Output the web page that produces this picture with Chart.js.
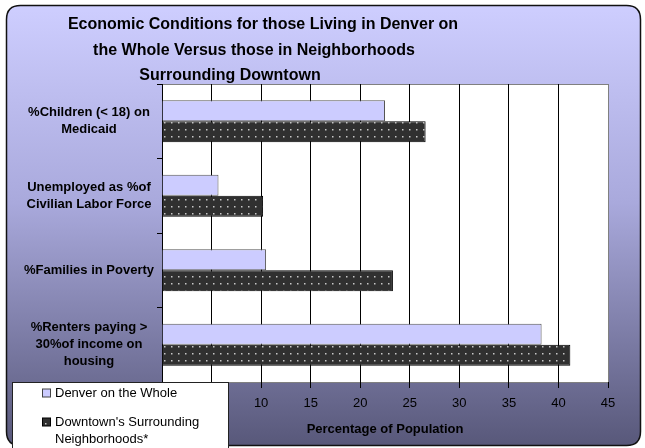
<!DOCTYPE html>
<html>
<head>
<meta charset="utf-8">
<script src="https://cdn.jsdelivr.net/npm/chart.js@4/dist/chart.umd.min.js"></script>
<style>
  html, body { margin: 0; padding: 0; background: #fff; }
  #wrap { width: 645px; height: 448px; position: relative; }
</style>
</head>
<body>
<div id="wrap"><canvas id="chart"></canvas></div>
<script>
const titleLines = [
    'Economic Conditions for those Living in Denver on',
    'the Whole Versus those in Neighborhoods',
    'Surrounding Downtown'
];
const categories = [
    ['%Children (< 18) on', 'Medicaid'],
    ['Unemployed as %of', 'Civilian Labor Force'],
    ['%Families in Poverty'],
    ['%Renters paying >', '30%of income on', 'housing']
];
const seriesNames = ['Denver on the Whole', "Downtown's Surrounding Neighborhoods*"];
const legendLines = [['Denver on the Whole'], ["Downtown's Surrounding", 'Neighborhoods*']];
const denverValues = [22.5, 5.7, 10.5, 38.3];
const downtownValues = [26.6, 10.2, 23.3, 41.2];
const axisTitle = 'Percentage of Population';

const FONT = '"Liberation Sans", Arial, sans-serif';

// dotted fill for the dark series
function makeDots() {
    const c = document.createElement('canvas');
    c.width = 7;
    c.height = 7;
    const g = c.getContext('2d');
    g.fillStyle = '#303030';
    g.fillRect(0, 0, 7, 7);
    g.fillStyle = '#c8c8c8';
    g.fillRect(3, 3, 1.5, 1.5);
    return g.createPattern(c, 'repeat');
}

const ctx = document.getElementById('chart').getContext('2d');
const dots = makeDots();

function roundRect(c, x, y, w, h, r) {
    c.beginPath();
    c.moveTo(x + r, y);
    c.lineTo(x + w - r, y);
    c.quadraticCurveTo(x + w, y, x + w, y + r);
    c.lineTo(x + w, y + h - r);
    c.quadraticCurveTo(x + w, y + h, x + w - r, y + h);
    c.lineTo(x + r, y + h);
    c.quadraticCurveTo(x, y + h, x, y + h - r);
    c.lineTo(x, y + r);
    c.quadraticCurveTo(x, y, x + r, y);
    c.closePath();
}

const backdrop = {
    id: 'backdrop',
    beforeDraw(chart) {
        const c = chart.ctx;
        const a = chart.chartArea;
        c.save();
        c.fillStyle = '#fff';
        c.fillRect(0, 0, chart.width, chart.height);
        const grad = c.createLinearGradient(0, 5, 0, 445);
        grad.addColorStop(0, '#ceceff');
        grad.addColorStop(0.45, '#a9a9dc');
        grad.addColorStop(1, '#58587a');
        roundRect(c, 6.5, 5.5, 634, 440, 14);
        c.fillStyle = grad;
        c.fill();
        c.lineWidth = 1.5;
        c.strokeStyle = '#111';
        c.stroke();
        c.fillStyle = '#fff';
        c.fillRect(a.left, a.top, a.right - a.left, a.bottom - a.top);
        c.strokeStyle = '#808080';
        c.lineWidth = 1;
        c.strokeRect(a.left + 0.5, a.top + 0.5, a.right - a.left, a.bottom - a.top);
        c.restore();
    },
    afterDraw(chart) {
        const c = chart.ctx;
        c.save();
        // title
        c.fillStyle = '#000';
        c.font = 'bold 16px ' + FONT;
        c.textAlign = 'center';
        c.textBaseline = 'alphabetic';
        const cx = [263, 254, 230];
        const by = [29, 55, 80];
        titleLines.forEach((t, i) => c.fillText(t, cx[i], by[i]));

        // legend
        c.fillStyle = '#fff';
        c.fillRect(12.5, 382.5, 216, 70);
        c.strokeStyle = '#222';
        c.lineWidth = 1;
        c.strokeRect(12.5, 382.5, 216, 70);
        const sets = chart.data.datasets;
        const ys = [393, 422];
        c.font = '13px ' + FONT;
        c.textAlign = 'left';
        c.textBaseline = 'middle';
        sets.forEach((ds, i) => {
            c.fillStyle = ds.backgroundColor;
            c.fillRect(42.5, ys[i] - 4, 8, 8);
            c.strokeStyle = i === 0 ? '#444' : '#000';
            c.strokeRect(42.5, ys[i] - 4, 8, 8);
            c.fillStyle = '#000';
            legendLines[i].forEach((t, j) => c.fillText(t, 55, ys[i] + j * 17));
        });
        c.restore();
    }
};

const chart = new Chart(ctx, {
    type: 'bar',
    data: {
        labels: categories,
        datasets: [
            {
                label: seriesNames[0],
                data: denverValues,
                backgroundColor: '#ccccff',
                borderColor: '#555',
                borderWidth: 1
            },
            {
                label: seriesNames[1],
                data: downtownValues,
                backgroundColor: dots,
                borderColor: '#000',
                borderWidth: 1
            }
        ]
    },
    options: {
        indexAxis: 'y',
        responsive: true,
        maintainAspectRatio: false,
        animation: false,
        categoryPercentage: 0.565,
        barPercentage: 1,
        layout: { padding: { top: 84, right: 37, left: 0, bottom: 0 } },
        plugins: {
            legend: { display: false },
            title: { display: false },
            tooltip: { enabled: false }
        },
        scales: {
            x: {
                min: 0,
                max: 45,
                ticks: {
                    stepSize: 5,
                    color: '#000',
                    padding: 8,
                    font: { family: FONT, size: 13 }
                },
                grid: {
                    color: (c) => (c.tick && c.tick.value === 45) ? '#808080' : '#000',
                    tickLength: 6,
                    tickColor: '#000'
                },
                border: { display: false },
                title: {
                    display: true,
                    text: axisTitle,
                    color: '#000',
                    font: { family: FONT, size: 13, weight: 'bold' },
                    padding: { top: 0, bottom: 11 }
                },
                afterFit: (s) => { s.height = 66; }
            },
            y: {
                ticks: {
                    color: '#000',
                    padding: 3,
                    crossAlign: 'center',
                    font: { family: FONT, size: 13, weight: 'bold', lineHeight: 1.3 }
                },
                grid: {
                    drawOnChartArea: false,
                    offset: true,
                    tickLength: 5,
                    color: '#000'
                },
                border: { display: true, color: '#000', width: 1 },
                afterFit: (s) => { s.width = 162; }
            }
        }
    },
    plugins: [backdrop]
});
</script>
</body>
</html>
